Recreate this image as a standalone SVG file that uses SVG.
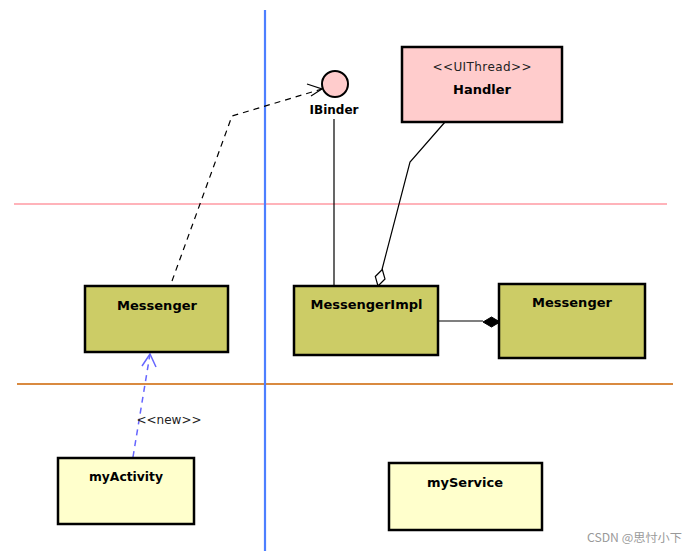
<svg xmlns="http://www.w3.org/2000/svg" width="690" height="551" viewBox="0 0 690 551">
<style>
.box{stroke:#000;stroke-width:2.5}
.olive{fill:#cccc66}
.yellow{fill:#ffffcc}
.pink{fill:#ffcccc}
.t{font-family:"DejaVu Sans",Verdana,sans-serif;font-weight:bold;font-size:13px;fill:#000;text-anchor:middle}
.s{font-family:"DejaVu Sans",Verdana,sans-serif;font-size:12px;fill:#222;text-anchor:middle}
.ln{fill:none;stroke:#000;stroke-width:1.2}
</style>
<rect width="690" height="551" fill="#fff"/>
<g id="lanes">
<line x1="14" y1="204" x2="667" y2="204" stroke="#ffb3ba" stroke-width="2"/>
<line x1="17" y1="384" x2="673" y2="384" stroke="#d98a40" stroke-width="2"/>
<line x1="265" y1="10" x2="265" y2="551" stroke="#4d7fff" stroke-width="2.2"/>
</g>
<g id="connectors">
<polyline class="ln" points="172,281 232,116 322,89" stroke="#444" stroke-dasharray="6,5"/>
<polyline class="ln" points="307,84 322,89 311,96" stroke="#444"/>
<line class="ln" x1="334" y1="119" x2="334" y2="286"/>
<polyline class="ln" points="445,122 410,162 382,269.5"/>
<polygon points="378,286 385,279 382.3,269.5 375.3,276.5" fill="#fff" stroke="#000" stroke-width="1.2"/>
<line class="ln" x1="439" y1="321" x2="483" y2="321"/>
<polygon points="483,322 491.5,317 500,322 491.5,327" fill="#000" stroke="#000" stroke-width="1"/>
<line x1="133" y1="457" x2="150" y2="354" stroke="#6666ff" stroke-width="1.5" stroke-dasharray="6,5"/>
<polyline points="142,366 150,354 156,367" fill="none" stroke="#6666ff" stroke-width="1.5"/>
<text class="s" x="169" y="424">&lt;&lt;new&gt;&gt;</text>
</g>
<g id="ibinder">
<circle cx="335" cy="84" r="13" fill="#ffcccc" stroke="#000" stroke-width="2"/>
<text class="t" x="334" y="114" style="font-size:12px">IBinder</text>
</g>
<g id="handler">
<rect class="box pink" x="402" y="47" width="160" height="75"/>
<text class="s" x="482" y="71" textLength="99" lengthAdjust="spacing">&lt;&lt;UIThread&gt;&gt;</text>
<text class="t" x="482" y="94">Handler</text>
</g>
<g id="messengerLeft">
<rect class="box olive" x="85" y="286" width="143" height="66"/>
<text class="t" x="157" y="310">Messenger</text>
</g>
<g id="messengerImpl">
<rect class="box olive" x="294" y="286" width="144" height="69"/>
<text class="t" x="366.5" y="309">MessengerImpl</text>
</g>
<g id="messengerRight">
<rect class="box olive" x="499" y="284" width="146" height="74"/>
<text class="t" x="572" y="307">Messenger</text>
</g>
<g id="myActivity">
<rect class="box yellow" x="58" y="458" width="136" height="66"/>
<text class="t" x="126" y="481" textLength="74" lengthAdjust="spacingAndGlyphs">myActivity</text>
</g>
<g id="myService">
<rect class="box yellow" x="389" y="463" width="153" height="67"/>
<text class="t" x="465" y="487">myService</text>
</g>
<text x="587" y="542" font-family="'Noto Sans CJK SC',sans-serif" font-size="11.5" fill="#999" textLength="95" lengthAdjust="spacingAndGlyphs">CSDN @思忖小下</text>
</svg>
